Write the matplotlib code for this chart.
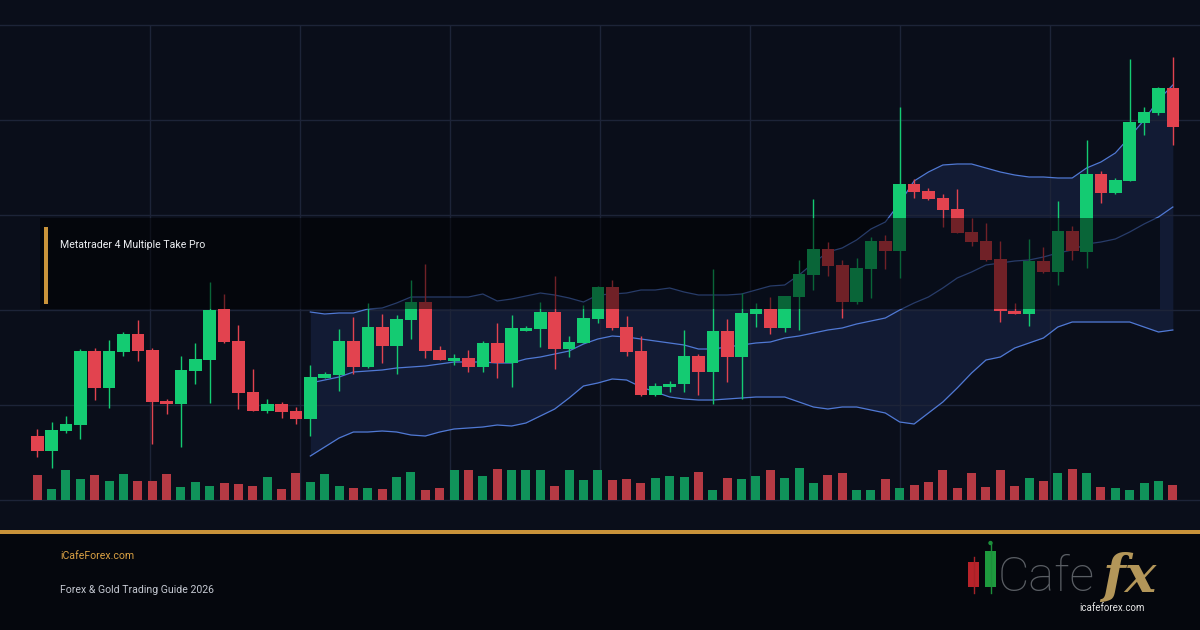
import matplotlib.pyplot as plt
from matplotlib.patches import Rectangle, Circle
import numpy as np

# candle data (price units, 80 bars)
opens = [64, 49, 69, 75, 149, 112, 148, 166, 150, 99, 96, 129, 140, 191, 159, 108, 89, 96, 89, 81,
         122, 125, 159, 133, 173, 154, 180, 198, 150, 139, 142, 133, 157, 137, 169, 171, 188, 151, 157, 181,
         213, 173, 149, 105, 113, 116, 144, 128, 169, 143, 186, 191, 172, 203, 225, 251, 235, 198, 231, 259,
         249, 316, 309, 302, 291, 268, 259, 241, 189, 186, 239, 228, 269, 248, 326, 307, 319, 377, 387, 412]
highs = [71, 78, 84, 151, 152, 160, 168, 180, 152, 101, 144, 157, 218, 206, 175, 131, 101, 98, 93, 135,
         128, 171, 183, 197, 186, 185, 220, 236, 154, 146, 150, 159, 177, 185, 174, 198, 224, 164, 195, 214,
         220, 184, 164, 117, 119, 170, 146, 231, 181, 207, 197, 203, 204, 240, 301, 258, 240, 242, 263, 265,
         393, 321, 312, 306, 311, 282, 277, 259, 197, 261, 253, 299, 274, 360, 329, 322, 441, 393, 413, 443]
lows = [43, 32, 67, 61, 100, 92, 144, 139, 56, 86, 53, 116, 97, 157, 91, 89, 87, 82, 76, 64,
        122, 109, 126, 132, 137, 126, 161, 142, 140, 135, 128, 128, 122, 113, 169, 153, 131, 143, 157, 177,
        170, 144, 104, 104, 108, 108, 105, 96, 118, 101, 173, 166, 168, 170, 210, 224, 182, 196, 202, 231,
        222, 302, 300, 273, 267, 254, 239, 178, 186, 174, 227, 215, 240, 232, 297, 306, 319, 365, 385, 355]
closes = [49, 70, 76, 149, 112, 149, 166, 149, 98, 96, 130, 141, 190, 158, 107, 89, 96, 88, 81, 123,
          126, 159, 133, 173, 154, 181, 198, 149, 140, 142, 133, 157, 137, 172, 172, 188, 151, 158, 182, 213,
          172, 148, 105, 114, 116, 144, 128, 169, 143, 187, 191, 172, 204, 226, 251, 234, 198, 232, 259, 249,
          316, 308, 301, 290, 267, 258, 240, 189, 186, 239, 228, 269, 249, 326, 307, 320, 378, 388, 412, 373]
volumes = [25, 11, 30, 21, 25, 19, 26, 19, 19, 26, 13, 18, 14, 17, 16, 14, 23, 11, 27, 18,
           26, 14, 12, 12, 11, 23, 28, 10, 12, 30, 30, 24, 31, 30, 30, 30, 14, 30, 20, 30,
           20, 21, 17, 22, 24, 23, 28, 10, 22, 21, 24, 30, 22, 32, 17, 25, 27, 10, 10, 21,
           12, 15, 18, 30, 12, 27, 13, 30, 14, 22, 19, 27, 31, 27, 13, 12, 10, 17, 19, 15]

# bollinger bands, from bar 19 on
band_start = 19
bb_upper = [188, 186, 187, 187, 191, 192, 197, 203, 203, 203, 203, 203, 206,
            199, 201, 204, 207, 205, 202, 198, 205, 206, 207, 210, 210, 212, 208, 205, 205,
            205, 206, 210, 214, 215, 225, 237, 248, 252, 260, 271, 278, 297, 319, 328, 335, 336,
            336, 332, 328, 325, 323, 323, 322, 322, 332, 338, 347, 363, 380, 400, 415]
bb_mid = [117, 120, 123, 128, 129, 130, 132, 133, 134, 136, 138, 138, 138,
          137, 137, 141, 143, 146, 149, 156, 161, 164, 163, 161, 159, 157, 155, 151, 151,
          153, 155, 157, 158, 162, 164, 167, 170, 172, 176, 179, 182, 190, 197, 203, 212, 222,
          228, 235, 237, 239, 240, 243, 247, 250, 256, 258, 261, 268, 276, 283, 293]
bb_lower = [44, 53, 62, 68, 68, 69, 68, 65, 64, 68, 71, 72, 73,
            75, 74, 77, 84, 91, 102, 114, 117, 121, 120, 113, 108, 103, 101, 100, 100,
            101, 102, 103, 103, 103, 98, 93, 91, 93, 93, 90, 87, 78, 76, 87, 98, 112,
            127, 140, 143, 152, 157, 162, 173, 178, 178, 178, 178, 178, 173, 168, 170]

title = "Metatrader 4 Multiple Take Pro"
site = "iCafeForex.com"
subtitle = "Forex & Gold Trading Guide 2026"

BG = '#0a0e1a'
GREEN = '#14cb72'
RED = '#e2434f'
VGREEN = '#10935a'
VRED = '#b63a44'
BAND = '#5079d4'
GRID = '#1d2438'
GOLD = '#c9933a'

fig = plt.figure(figsize=(12, 6.3), dpi=100, facecolor=BG)

# main price axes
ax = fig.add_axes([0, 0, 1, 1])
ax.set_facecolor(BG)
ax.set_xlim(-2.588, 80.89)
ax.set_ylim(-130, 500)
ax.axis('off')

x = np.arange(len(opens))
o = np.array(opens)
c = np.array(closes)
up = c >= o
cols = np.where(up, GREEN, RED)

# grid
for gy in [475, 380, 285, 190, 95, 0]:
    ax.axhline(gy, color=GRID, lw=1, zorder=1)
for gx in [150, 300, 450, 600, 750, 900, 1050]:
    xi = (gx - 37.2) / 14.375
    ax.vlines(xi, 0, 475, color=GRID, lw=1, zorder=1)

# bands
xb = x[band_start:]
ax.fill_between(xb, bb_lower, bb_upper, color='#131c36', alpha=0.95, lw=0, zorder=0.8)
ax.plot(xb, bb_upper, color=BAND, lw=0.9, zorder=2)
ax.plot(xb, bb_mid, color=BAND, lw=0.9, zorder=2)
ax.plot(xb, bb_lower, color=BAND, lw=0.9, zorder=2)

# candles
ax.vlines(x, lows, highs, colors=cols, lw=1, zorder=3)
body = np.maximum(np.abs(c - o), 1.5)
ax.bar(x, body, bottom=np.minimum(o, c), width=0.88, color=cols, zorder=4)

# volume
ax.bar(x, volumes, bottom=0, width=0.62, color=np.where(up, VGREEN, VRED), zorder=3)

# overlay in pixel coords
ov = fig.add_axes([0, 0, 1, 1])
ov.set_zorder(2)
ov.patch.set_visible(False)
ov.set_xlim(0, 1200)
ov.set_ylim(630, 0)
ov.axis('off')

ov.add_patch(Rectangle((40, 218), 1120, 91, facecolor='black', alpha=0.5, lw=0))
ov.add_patch(Rectangle((44, 227), 4, 77, facecolor=GOLD, lw=0))
ov.text(60, 245, title, color='#eceef2', fontsize=7.6, family='Roboto', va='center')

# footer
ov.add_patch(Rectangle((0, 534), 1200, 96, facecolor='#05070d', lw=0))
ov.add_patch(Rectangle((0, 530), 1200, 4, facecolor=GOLD, lw=0))
ov.text(60, 556, site, color='#d9a043', fontsize=7.6, family='Roboto', va='center')
ov.text(60, 590, subtitle, color='#c5c9d2', fontsize=7.6, family='Roboto', va='center')

# logo
ov.plot([973.5, 973.5], [557, 593], color='#a82228', lw=1)
ov.add_patch(Rectangle((968, 562), 11, 25, facecolor='#b8232a', lw=0))
ov.plot([990.5, 990.5], [544, 593], color='#1c8f3a', lw=1)
ov.add_patch(Circle((990.5, 543), 2.2, facecolor='#1c8f3a', lw=0))
ov.add_patch(Rectangle((985, 551), 11, 36, facecolor='#1e9a3e', lw=0))
ov.text(998, 591, "Cafe", color='#5a5e64', fontsize=35, family='Roboto', fontweight='light',
        va='baseline')
ov.text(1102, 592, "fx", color='#b39659', fontsize=38, family='DejaVu Serif',
        fontweight='bold', style='italic', va='baseline')
ov.text(1112, 608, "icafeforex.com", color='#e6e6e6', fontsize=7, family='Roboto',
        ha='center', va='center')

fig.savefig('out.png', dpi=100, facecolor=BG)
